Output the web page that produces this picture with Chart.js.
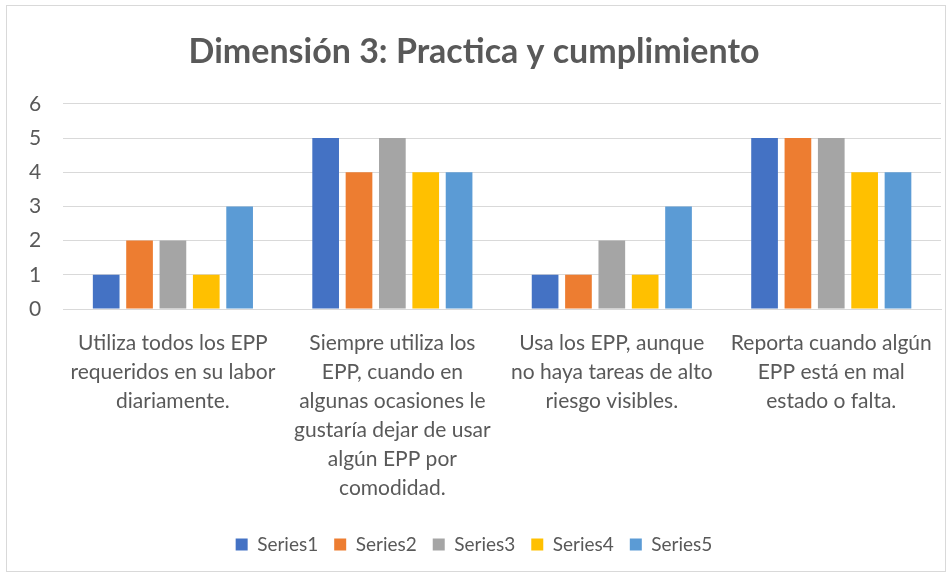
<!DOCTYPE html>
<html>
<head>
<meta charset="utf-8">
<script src="https://cdn.jsdelivr.net/npm/chart.js@4"></script>
<style>
  body { margin: 0; background: #fff; }
  #box { position: absolute; left: 6px; top: 5px; width: 938px; height: 565px; border: 1px solid #d9d9d9; }
</style>
</head>
<body>
<div id="box"><canvas id="chart" width="938" height="565"></canvas></div>
<script>
// chart data
const categories = [
  ["Utiliza todos los EPP", "requeridos en su labor", "diariamente."],
  ["Siempre utiliza los", "EPP, cuando en", "algunas ocasiones le", "gustaría dejar de usar", "algún EPP por", "comodidad."],
  ["Usa los EPP, aunque", "no haya tareas de alto", "riesgo visibles."],
  ["Reporta cuando algún", "EPP está en mal", "estado o falta."]
];
const seriesNames = ["Series1", "Series2", "Series3", "Series4", "Series5"];
const series1 = [1, 5, 1, 5];
const series2 = [2, 4, 1, 5];
const series3 = [2, 5, 2, 5];
const series4 = [1, 4, 1, 4];
const series5 = [3, 4, 3, 4];
const colors = ["#4472C4", "#ED7D31", "#A5A5A5", "#FFC000", "#5B9BD5"];
const yTicks = [0, 1, 2, 3, 4, 5, 6];

const fontFamily = "Lato, 'Open Sans', sans-serif";
const allSeries = [series1, series2, series3, series4, series5];

const ctx = document.getElementById("chart").getContext("2d");
const chart = new Chart(ctx, {
  type: "bar",
  data: {
    labels: categories,
    datasets: allSeries.map((vals, i) => ({
      label: seriesNames[i],
      data: vals,
      backgroundColor: colors[i],
      categoryPercentage: 0.76,
      barPercentage: 0.8
    }))
  },
  options: {
    responsive: false,
    animation: false,
    layout: { padding: { left: 0, right: 4, top: 8, bottom: 7 } },
    plugins: {
      title: {
        display: true,
        text: "Dimensión 3: Practica y cumplimiento",
        color: "#595959",
        font: { family: fontFamily, size: 34, weight: "bold" },
        padding: { top: 18, bottom: 31 }
      },
      legend: {
        position: "bottom",
        labels: {
          color: "#595959",
          font: { family: fontFamily, size: 19 },
          boxWidth: 12,
          boxHeight: 12,
          padding: 16
        }
      },
      tooltip: { enabled: false }
    },
    scales: {
      x: {
        grid: { display: false },
        border: { display: true, color: "#d9d9d9" },
        afterFit: (axis) => { axis.height += 4; },
        ticks: {
          color: "#595959",
          font: { family: fontFamily, size: 21, lineHeight: "29px" },
          maxRotation: 0,
          autoSkip: false,
          padding: 12
        }
      },
      y: {
        min: 0,
        max: 6,
        afterBuildTicks: (axis) => { axis.ticks = yTicks.map(v => ({ value: v })); },
        grid: { color: "#d9d9d9", drawTicks: false },
        border: { display: false },
        ticks: {
          color: "#595959",
          font: { family: fontFamily, size: 21 },
          padding: 22
        }
      }
    }
  }
});
</script>
</body>
</html>
